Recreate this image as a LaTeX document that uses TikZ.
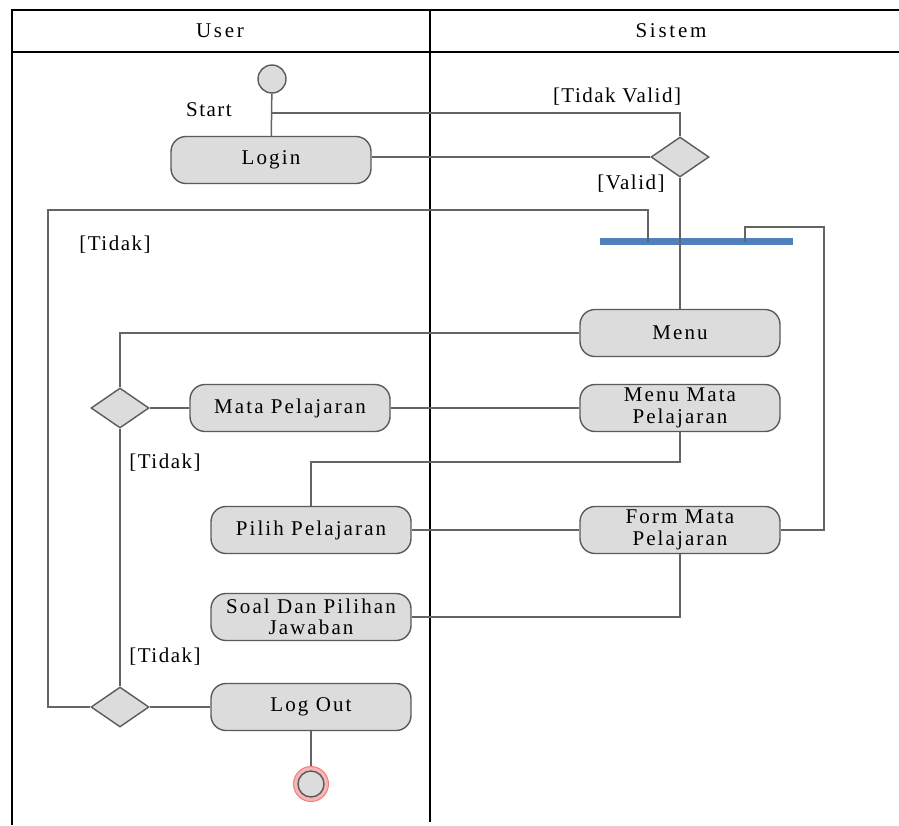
\documentclass[tikz,border=0pt]{standalone}
\usepackage{fontspec}
\setmainfont{Liberation Serif}
\newfontfamily\actfont{Liberation Serif}[LetterSpace=10]
\newfontfamily\guardfont{Liberation Serif}[LetterSpace=7]
\newfontfamily\headfont{Liberation Serif}[LetterSpace=13]
\usetikzlibrary{shapes.geometric,calc}
\definecolor{actfill}{HTML}{DCDCDC}
\definecolor{actline}{HTML}{5A5A5A}
\definecolor{flow}{HTML}{646464}
\definecolor{barblue}{HTML}{4F81BD}
\definecolor{endring}{HTML}{F7B5B5}
\definecolor{endedge}{HTML}{EE8080}
\tikzset{
  activity/.style={draw=actline, line width=1.4pt, fill=actfill, rounded corners=15pt,
    minimum width=200pt, minimum height=47pt, align=center, inner sep=1pt,
    font=\actfont\fontsize{21}{21.5}\selectfont},
  decision/.style={draw=actline, line width=1.4pt, fill=actfill, diamond,
    minimum width=58pt, minimum height=40pt, inner sep=0pt},
  flowline/.style={draw=flow, line width=1.5pt},
  guard/.style={font=\guardfont\fontsize{21}{22}\selectfont, inner sep=0pt},
  lanehead/.style={font=\headfont\fontsize{21}{22}\selectfont, inner sep=0pt},
  frame/.style={draw=black, line width=2pt},
}
\begin{document}
\begin{tikzpicture}[x=1pt, y=-1pt]
\useasboundingbox (0,0) rectangle (899,825);

% swimlane table
\draw[frame] (899,10) -- (12,10) -- (12,825);
\draw[frame] (12,52) -- (899,52);
\draw[frame] (430,10) -- (430,822);
\node[lanehead] (laneuser) at (220,31) {User};
\node[lanehead] (lanesys) at (671,31) {Sistem};

% synchronisation bar
\node[fill=barblue, minimum width=193pt, minimum height=7pt, inner sep=0pt] (bar) at (696.5,241.5) {};
\coordinate (barA) at (648,241.5);
\coordinate (barB) at (745,241.5);

% initial node
\node[circle, draw=actline, line width=1.4pt, fill=actfill, minimum size=28pt, inner sep=0pt] (start) at (272,79) {};
\node[guard] (startlbl) at (209,110) {Start};

% activities
\node[activity] (login) at (271,160) {Login};
\node[decision] (dec1) at (680,157) {};
\node[activity] (menu) at (680,333) {Menu};
\node[decision] (dec2) at (120,408) {};
\node[activity] (mapel) at (290,408) {Mata Pelajaran};
\node[activity] (menumapel) at (680,408) {Menu Mata\\Pelajaran};
\node[activity] (pilih) at (311,530) {Pilih Pelajaran};
\node[activity] (form) at (680,530) {Form Mata\\Pelajaran};
\node[activity] (soal) at (311,617) {Soal Dan Pilihan\\Jawaban};
\node[decision] (dec3) at (120,707) {};
\node[activity] (logout) at (311,707) {Log Out};

% final node
\node[circle, draw=endedge, line width=1pt, fill=endring, minimum size=35pt, inner sep=0pt] (endring) at (311,784) {};
\node[circle, draw=actline, line width=1.4pt, fill=actfill, minimum size=26pt, inner sep=0pt] (end) at (311,784) {};

% guard labels
\node[guard] (g1) at (617,97) {[Tidak Valid]};
\node[guard] (g2) at (631,184) {[Valid]};
\node[guard] (g3) at (115,245) {[Tidak]};
\node[guard] (g4) at (165,463) {[Tidak]};
\node[guard] (g5) at (165,657) {[Tidak]};

% control flows
\draw[flowline] (start) -- (login);
\draw[flowline] (start.south |- 0,113) -- (680,113) -- (dec1.north);
\draw[flowline] (login.east |- dec1.west) -- (dec1.west);
\draw[flowline] (dec1.south) -- (menu.north);
\draw[flowline] (barA) -- (648,210) -- (48,210) |- (dec3.west);
\draw[flowline] (barB) -- (745,227) -- (824,227) |- (form.east);
\draw[flowline] (menu.west) -| (dec2.north);
\draw[flowline] (dec2.east) -- (mapel.west);
\draw[flowline] (mapel.east) -- (menumapel.west);
\draw[flowline] (menumapel.south) -- (680,462) -| (pilih.north);
\draw[flowline] (pilih.east) -- (form.west);
\draw[flowline] (form.south) |- (soal.east);
\draw[flowline] (dec2.south) -- (dec3.north);
\draw[flowline] (dec3.east) -- (logout.west);
\draw[flowline] (logout.south) -- (endring.north);
\end{tikzpicture}
\end{document}
